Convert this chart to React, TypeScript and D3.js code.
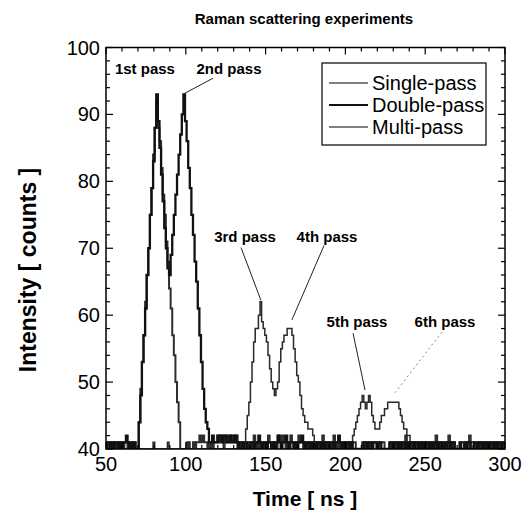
import React from 'react';
import * as d3 from 'd3';

const T0 = 50; // first sample time (ns), one sample per ns

const singlePass = [
  41,40,41,41,40,41,40,41,41,40,
  41,40,41,41,40,41,41,40,41,40,
  40,44,49,53,57,62,66,70,75,79,
  84,88,92,88,86,82,78,75,71,68,
  64,61,57,54,50,47,44,40,40,40,
  40,40,41,40,40,41,40,41,41,42,
  41,42,41,41,40,41,41,40,41,41,
  42,41,42,42,41,42,41,42,42,41,
  42,41,42,41,41,40,41,40,41,40,
  41,41,40,42,41,40,41,40,41,41,
  40,41,42,41,40,41,41,40,41,42,
  41,42,41,40,41,41,42,41,40,41,
  41,42,41,41,40,41,40,41,41,40,
  41,40,41,41,40,41,42,40,41,40,
  41,40,41,42,40,41,40,41,41,40,
  41,40,41,41,40,41,41,40,40,40,
  40,41,41,40,41,41,40,41,41,41,
  41,40,41,41,41,40,40,40,40,41,
  41,40,41,41,40,41,41,40,42,41,
  41,40,41,41,40,41,40,41,41,40,
  41,41,40,41,40,41,41,42,41,40,
  41,40,41,41,40,42,41,40,41,40,
  40,40,40,41,41,40,41,41,42,41,
  41,40,41,41,40,41,40,41,41,40,
  41,40,41,41,40,41,41,40,41,41,
  40,
];

const doublePass = [
  40,41,41,40,41,40,41,41,40,41,
  40,41,41,42,41,40,41,40,41,40,
  40,44,48,53,57,61,66,70,75,79,
  83,88,93,89,85,81,77,73,70,67,
  66,69,72,75,78,81,84,87,90,93,
  89,86,82,79,75,72,68,65,61,57,
  53,49,46,44,43,41,41,42,41,41,
  41,42,42,41,42,42,41,41,42,41,
  41,42,41,40,41,41,40,41,41,40,
  40,41,41,40,41,41,42,41,40,41,
  41,40,41,41,40,41,40,41,42,41,
  40,41,41,42,41,40,41,41,40,41,
  40,41,41,42,41,40,41,41,40,41,
  40,41,40,41,41,40,41,40,41,41,
  40,41,41,40,41,41,42,41,40,41,
  40,41,41,40,41,40,40,40,40,40,
  40,40,41,41,40,41,41,40,41,41,
  40,41,41,40,40,40,40,40,41,41,
  40,41,41,40,41,40,41,41,40,41,
  40,41,41,40,41,41,40,41,40,41,
  40,41,41,40,41,40,41,41,40,41,
  41,40,41,40,41,41,40,41,41,40,
  40,40,41,40,40,41,40,41,41,40,
  40,41,41,40,41,41,40,41,40,41,
  40,41,41,40,41,40,41,41,40,41,
  41,
];

const multiPass = [
  40,40,40,41,40,40,40,40,41,40,
  40,40,40,40,41,40,40,40,40,40,
  40,40,40,40,40,40,40,40,40,40,
  41,40,40,40,40,40,40,40,40,41,
  40,40,40,40,40,40,40,40,40,40,
  40,41,40,40,40,40,41,40,40,40,
  40,40,40,40,40,40,41,40,40,40,
  40,40,40,40,41,40,40,40,40,40,
  40,40,40,41,40,40,40,40,43,45,
  47,50,53,56,58,58,60,62,59,58,
  57,56,54,52,50,49,48,49,50,53,
  55,56,57,57,58,58,58,57,55,53,
  51,50,48,46,45,44,44,43,43,43,
  42,41,40,40,41,40,40,40,41,40,
  40,40,41,40,40,40,40,41,40,40,
  40,40,40,40,41,42,43,44,45,46,
  47,48,47,46,47,48,47,45,44,43,
  43,43,44,45,45,46,46,47,47,47,
  47,47,47,47,46,45,44,43,43,42,
  42,41,40,40,41,40,40,40,40,40,
  40,41,40,40,40,40,40,41,40,40,
  40,40,40,40,40,41,40,40,40,40,
  40,40,40,40,40,40,40,40,41,40,
  40,40,40,40,40,41,40,40,40,40,
  40,40,40,40,40,40,40,40,40,40,
  40,
];

const seriesNames = ['Single-pass', 'Double-pass', 'Multi-pass'];
const xTicks = [50, 100, 150, 200, 250, 300];
const yTicks = [40, 50, 60, 70, 80, 90, 100];

const annotationLabels = ['1st pass', '2nd pass', '3rd pass', '4th pass', '5th pass', '6th pass'];
const annotationAt = [[74.4, 96.0], [127.1, 96.0], [137.1, 71.0], [188.5, 71.0], [207.3, 58.3], [262.4, 58.3]];
const leaderFrom = [null, [117.0, 95.4], [134.6, 70.1], [186.6, 70.4], [204.8, 57.3], [260.5, 57.5]];
const leaderTo = [null, [98.9, 93.1], [147.1, 62.2], [166.5, 59.3], [212.3, 48.8], [231.1, 48.4]];

const W = 522, H = 519;
const L = 106, R = 505, TOP = 47.5, BOT = 449;

const styles = [
  { stroke: '#2e2e2e', width: 2.0 },
  { stroke: '#111111', width: 2.3 },
  { stroke: '#2a2a2a', width: 1.5 },
];

export default function App() {
  const x = d3.scaleLinear().domain([50, 300]).range([L, R]);
  const y = d3.scaleLinear().domain([40, 100]).range([BOT, TOP]);
  const all = [singlePass, doublePass, multiPass];
  const line = d3.line<number>()
    .x((_, i) => x(T0 + i))
    .y((d) => y(d))
    .curve(d3.curveStep);

  const xMinor = d3.range(50, 301, 10);
  const yMinor = d3.range(40, 101, 2);
  const font = 'Liberation Sans, Arial, sans-serif';

  return (
    <svg width={W} height={H} style={{ position: 'absolute', left: 0, top: 0, background: '#fff' }} fontFamily={font}>
      <rect x={0} y={0} width={W} height={H} fill="#fff" />
      <defs>
        <clipPath id="plot">
          <rect x={L} y={TOP} width={R - L} height={BOT - TOP} />
        </clipPath>
      </defs>
      <text x={304} y={24} textAnchor="middle" fontWeight="bold" fontSize={15}>Raman scattering experiments</text>

      <g clipPath="url(#plot)">
        {[2, 0, 1].map((k) => (
          <path key={k} d={line(all[k]) || ''} fill="none" stroke={styles[k].stroke}
            strokeWidth={styles[k].width} strokeLinejoin="miter" />
        ))}
      </g>

      {/* frame */}
      <rect x={L} y={TOP} width={R - L} height={BOT - TOP} fill="none" stroke="#000" strokeWidth={1.5} />
      {xMinor.map((t) => {
        const major = xTicks.includes(t);
        const len = major ? 7 : 4;
        return (
          <g key={'xt' + t}>
            <line x1={x(t)} x2={x(t)} y1={BOT} y2={BOT - len} stroke="#000" strokeWidth={1.2} />
            <line x1={x(t)} x2={x(t)} y1={TOP} y2={TOP + len} stroke="#000" strokeWidth={1.2} />
          </g>
        );
      })}
      {yMinor.map((v) => {
        const major = yTicks.includes(v);
        const len = major ? 7 : 4;
        return (
          <g key={'yt' + v}>
            <line x1={L} x2={L + len} y1={y(v)} y2={y(v)} stroke="#000" strokeWidth={1.2} />
            <line x1={R} x2={R - len} y1={y(v)} y2={y(v)} stroke="#000" strokeWidth={1.2} />
          </g>
        );
      })}
      {xTicks.map((t) => (
        <text key={'xl' + t} x={x(t)} y={BOT + 22} textAnchor="middle" fontSize={20}>{t}</text>
      ))}
      {yTicks.map((v) => (
        <text key={'yl' + v} x={L - 6} y={y(v) + 7} textAnchor="end" fontSize={20}>{v}</text>
      ))}
      <text x={305} y={506} textAnchor="middle" fontWeight="bold" fontSize={21}>Time [ ns ]</text>
      <text transform={`translate(36,270) rotate(-90)`} textAnchor="middle" fontWeight="bold" fontSize={23}>Intensity [ counts ]</text>

      {annotationLabels.map((lab, i) => (
        <g key={'an' + i}>
          <text x={x(annotationAt[i][0])} y={y(annotationAt[i][1])} textAnchor="middle" fontWeight="bold" fontSize={15}>{lab}</text>
          {leaderFrom[i] && leaderTo[i] && (
            <line x1={x(leaderFrom[i]![0])} y1={y(leaderFrom[i]![1])} x2={x(leaderTo[i]![0])} y2={y(leaderTo[i]![1])}
              stroke={i === 5 ? '#888' : '#222'} strokeWidth={1} strokeDasharray={i === 5 ? '2,3' : undefined} />
          )}
        </g>
      ))}

      <rect x={322} y={63} width={164} height={82} fill="#fff" stroke="#000" strokeWidth={1.2} />
      {seriesNames.map((n, i) => (
        <g key={'lg' + i}>
          <line x1={329} x2={368} y1={83 + i * 22} y2={83 + i * 22} stroke={i === 1 ? '#111' : '#555'}
            strokeWidth={i === 1 ? 2.2 : 1.3} />
          <text x={372} y={83 + i * 22 + 7} fontSize={20}>{n}</text>
        </g>
      ))}
    </svg>
  );
}
